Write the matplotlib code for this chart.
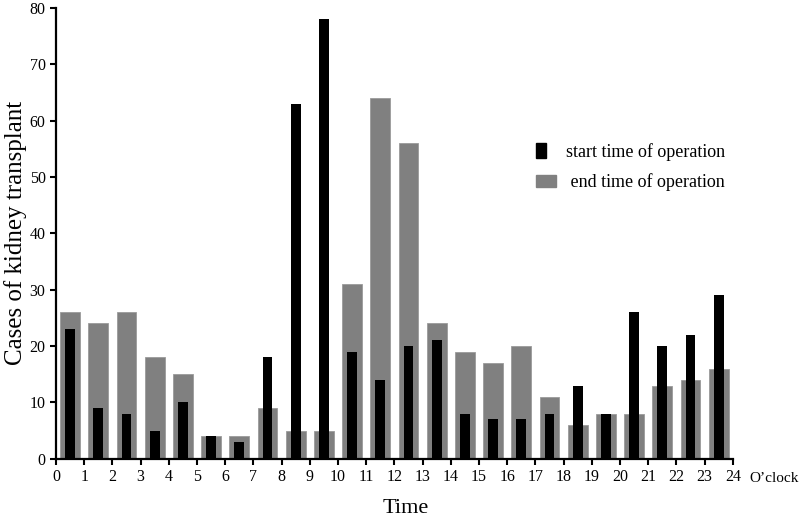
import numpy as np
import matplotlib.pyplot as plt
from matplotlib.patches import Rectangle
from matplotlib.legend_handler import HandlerPatch

plt.rcParams['font.family'] = ['Liberation Serif', 'DejaVu Serif']

# Casos por hora (0-23)
horas = np.arange(24)
inicio = [23, 9, 8, 5, 10, 4, 3, 18, 63, 78, 19, 14, 20, 21, 8, 7, 7, 8, 13, 8, 26, 20, 22, 29]
fin = [26, 24, 26, 18, 15, 4, 4, 9, 5, 5, 31, 64, 56, 24, 19, 17, 20, 11, 6, 8, 8, 13, 14, 16]
gris = '#808080'

fig = plt.figure(figsize=(8, 5.19), dpi=100)
ax = fig.add_axes([0.07, 0.116, 0.846, 0.869])

ax.bar(horas + 0.5, fin, width=0.7, color=gris, edgecolor='#9a9a9a', linewidth=0.6, zorder=2)
ax.bar(horas + 0.5, inicio, width=0.35, color='black', zorder=3)

ax.set_xlim(0, 24)
ax.set_ylim(0, 80)
ax.set_xticks(range(0, 25))
ax.set_yticks(range(0, 81, 10))
ax.tick_params(direction='out', length=4, width=1.5, labelsize=11.5)
for s in ['top', 'right']:
    ax.spines[s].set_visible(False)
for s in ['left', 'bottom']:
    ax.spines[s].set_linewidth(1.6)

ax.set_ylabel('Cases of kidney transplant', fontsize=18, labelpad=2)
fig.text(406 / 800, 6 / 519, 'Time', fontsize=16, ha='center', va='baseline')
ax.text(24.6, -2.3, 'O\u2019clock', fontsize=11, ha='left', va='top', clip_on=False)


# Marcador estrecho para la serie negra, como en el original
def marcador_estrecho(legend, orig_handle, xdescent, ydescent, width, height, fontsize):
    return Rectangle((-xdescent, -ydescent - 0.1 * height), width * 0.5, height * 1.2)


h1 = Rectangle((0, 0), 1, 1, color='black')
h2 = Rectangle((0, 0), 1, 1, color=gris)
ax.legend([h1, h2], ['start time of operation', ' end time of operation'],
          handler_map={h1: HandlerPatch(patch_func=marcador_estrecho)},
          loc='upper left', bbox_to_anchor=(527 / 800, 1 - 134 / 519),
          bbox_transform=fig.transFigure, frameon=False, borderpad=0,
          fontsize=13, handlelength=1.1, handleheight=0.7,
          handletextpad=0.55, labelspacing=0.7)

fig.savefig('out.png', dpi=100)
